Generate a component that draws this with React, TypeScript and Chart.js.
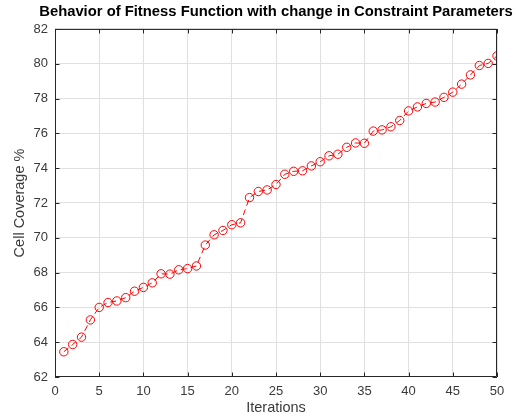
import React, { useEffect, useRef } from "react";
import { Chart, registerables } from "chart.js";

Chart.register(...registerables);

const TITLE = "Behavior of Fitness Function with change in Constraint Parameters";
const X_LABEL = "Iterations";
const Y_LABEL = "Cell Coverage %";

const iterations: number[] = Array.from({ length: 50 }, (_, i) => i + 1);
const coverage: number[] = [
  63.45, 63.87, 64.29, 65.28, 66.0, 66.28, 66.37, 66.56, 66.93, 67.15,
  67.41, 67.93, 67.91, 68.16, 68.23, 68.38, 69.58, 70.17, 70.42, 70.75,
  70.86, 72.31, 72.66, 72.75, 73.06, 73.65, 73.82, 73.85, 74.13, 74.37,
  74.71, 74.8, 75.2, 75.45, 75.43, 76.13, 76.2, 76.38, 76.74, 77.29,
  77.52, 77.72, 77.8, 78.07, 78.37, 78.83, 79.36, 79.9, 80.02, 80.45,
];

const X_MIN = 0;
const X_MAX = 50;
const X_STEP = 5;
const Y_MIN = 62;
const Y_MAX = 82;
const Y_STEP = 2;

const FONT = "'Liberation Sans', Arial, Helvetica, sans-serif";

// Widen the title box so the long title is not squeezed to the plot width,
// while keeping it centred over the plot area.
const titleWidthPlugin = {
  id: "titleWidth",
  afterLayout(chart: any) {
    const tb = chart.titleBlock;
    if (!tb) return;
    const { left, right } = chart.chartArea;
    const cx = (left + right) / 2;
    const half = Math.min(cx, chart.width - cx);
    tb.left = cx - half;
    tb.right = cx + half;
    tb.width = 2 * half;
  },
};

const boxPlugin = {
  id: "matlabBox",
  afterDatasetsDraw(chart: any) {
    const { ctx, chartArea } = chart;
    const { left, right, top, bottom } = chartArea;
    const xs = chart.scales.x;
    const ys = chart.scales.y;
    const tl = 4.5;
    ctx.save();
    ctx.strokeStyle = "#262626";
    ctx.lineWidth = 1;
    ctx.beginPath();
    ctx.rect(left + 0.5, top + 0.5, right - left - 1, bottom - top - 1);
    ctx.stroke();
    ctx.beginPath();
    xs.ticks.forEach((t: any) => {
      const px = Math.round(xs.getPixelForValue(t.value)) + 0.5;
      ctx.moveTo(px, bottom);
      ctx.lineTo(px, bottom - tl);
      ctx.moveTo(px, top);
      ctx.lineTo(px, top + tl);
    });
    ys.ticks.forEach((t: any) => {
      const py = Math.round(ys.getPixelForValue(t.value)) + 0.5;
      ctx.moveTo(left, py);
      ctx.lineTo(left + tl, py);
      ctx.moveTo(right, py);
      ctx.lineTo(right - tl, py);
    });
    ctx.stroke();
    ctx.restore();
  },
};

export default function App() {
  const canvasRef = useRef<HTMLCanvasElement | null>(null);

  useEffect(() => {
    const canvas = canvasRef.current;
    if (!canvas) return;
    const chart = new Chart(canvas, {
      type: "line",
      data: {
        datasets: [
          {
            data: iterations.map((x, i) => ({ x, y: coverage[i] })),
            borderColor: "#ff0000",
            borderWidth: 1,
            borderDash: [6, 4],
            pointStyle: "circle",
            pointRadius: 4.2,
            pointBorderWidth: 1,
            pointBorderColor: "#ff0000",
            pointBackgroundColor: "rgba(0,0,0,0)",
            fill: false,
            tension: 0,
          },
        ],
      },
      options: {
        animation: false,
        responsive: false,
        maintainAspectRatio: false,
        layout: { padding: { left: 0, right: 19, top: 0, bottom: 0 } },
        plugins: {
          legend: { display: false },
          tooltip: { enabled: false },
          title: {
            display: true,
            text: TITLE,
            fullSize: false,
            color: "#000000",
            font: { family: FONT, size: 14.8, weight: "bold" },
            padding: { top: 3, bottom: 8.2 },
          },
        },
        scales: {
          x: {
            type: "linear",
            min: X_MIN,
            max: X_MAX,
            ticks: {
              stepSize: X_STEP,
              color: "#3a3a3a",
              font: { family: FONT, size: 13 },
              padding: 7,
              maxRotation: 0,
            },
            grid: { color: "#e0e0e0", drawTicks: false, lineWidth: 1 },
            border: { display: false },
            title: {
              display: true,
              text: X_LABEL,
              color: "#3a3a3a",
              font: { family: FONT, size: 14.5 },
              padding: { top: 0, bottom: 0.5 },
            },
            afterFit(scale: any) {
              scale.height = 40;
            },
          },
          y: {
            type: "linear",
            min: Y_MIN,
            max: Y_MAX,
            ticks: {
              stepSize: Y_STEP,
              color: "#3a3a3a",
              font: { family: FONT, size: 13 },
              padding: 7,
            },
            grid: { color: "#e0e0e0", drawTicks: false, lineWidth: 1 },
            border: { display: false },
            title: {
              display: true,
              text: Y_LABEL,
              color: "#3a3a3a",
              font: { family: FONT, size: 14.5 },
              padding: { top: 11.3, bottom: 0 },
            },
            afterFit(scale: any) {
              scale.width = 55;
            },
          },
        },
      },
      plugins: [titleWidthPlugin, boxPlugin],
    } as any);
    return () => chart.destroy();
  }, []);

  return (
    <div style={{ position: "absolute", left: 0, top: 0, width: 516, height: 417, background: "#ffffff" }}>
      <canvas ref={canvasRef} width={516} height={417} style={{ width: 516, height: 417 }} />
    </div>
  );
}
